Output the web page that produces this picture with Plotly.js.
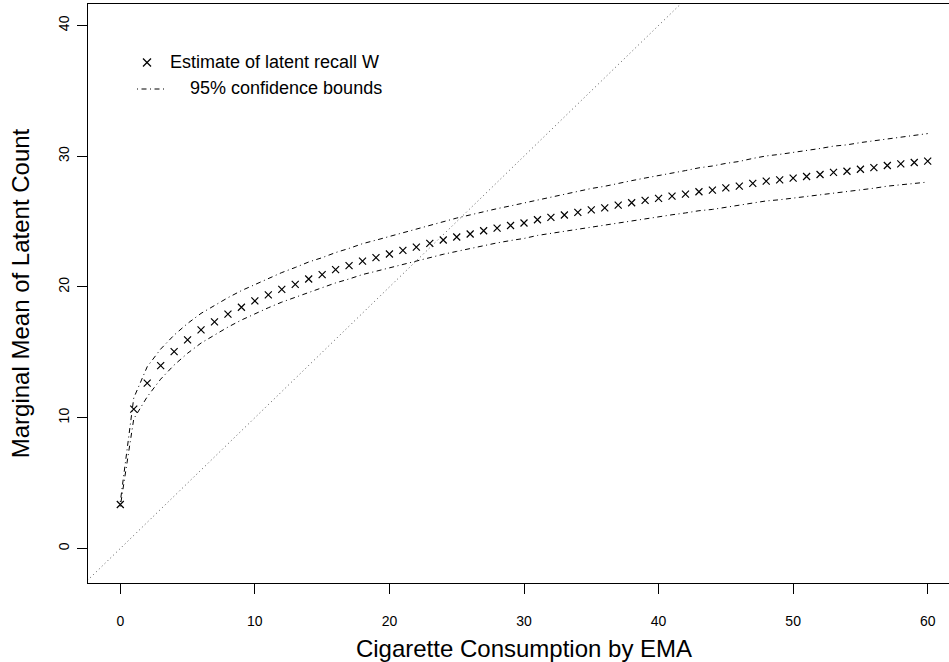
<!DOCTYPE html>
<html>
<head>
<meta charset="utf-8">
<script src="https://cdn.plot.ly/plotly-3.0.1.min.js"></script>
<style>
html,body{margin:0;padding:0;overflow:hidden;background:#fff;}
#chart{width:960px;height:662px;}
</style>
</head>
<body>
<div id="chart"></div>
<script>
// ---- data ----
var cigarettes = [0,1,2,3,4,5,6,7,8,9,10,11,12,13,14,15,16,17,18,19,20,21,22,23,24,25,26,27,28,29,30,31,32,33,34,35,36,37,38,39,40,41,42,43,44,45,46,47,48,49,50,51,52,53,54,55,56,57,58,59,60];
var estimate = [3.36,10.66,12.65,13.99,15.06,15.95,16.72,17.33,17.92,18.45,18.93,19.39,19.82,20.20,20.61,20.94,21.32,21.63,21.98,22.24,22.52,22.80,23.05,23.33,23.59,23.82,24.05,24.30,24.50,24.70,24.89,25.14,25.32,25.50,25.70,25.90,26.05,26.26,26.44,26.62,26.77,26.95,27.10,27.28,27.40,27.58,27.71,27.92,28.09,28.19,28.32,28.45,28.60,28.76,28.85,29.00,29.13,29.29,29.41,29.52,29.62];
var upperBound = [3.56,11.51,13.90,15.25,16.32,17.21,17.98,18.59,19.18,19.72,20.20,20.66,21.10,21.49,21.91,22.24,22.63,22.95,23.31,23.58,23.87,24.17,24.44,24.74,25.02,25.27,25.51,25.77,25.99,26.20,26.42,26.69,26.89,27.09,27.31,27.53,27.70,27.93,28.13,28.33,28.51,28.72,28.90,29.11,29.25,29.45,29.60,29.83,30.02,30.14,30.28,30.43,30.59,30.77,30.87,31.04,31.18,31.35,31.49,31.61,31.73];
var lowerBound = [3.21,9.91,11.60,12.95,14.03,14.93,15.71,16.33,16.93,17.47,17.95,18.41,18.84,19.21,19.62,19.94,20.31,20.61,20.95,21.20,21.47,21.74,21.98,22.25,22.50,22.72,22.94,23.18,23.37,23.55,23.71,23.94,24.10,24.26,24.43,24.61,24.73,24.92,25.07,25.23,25.36,25.52,25.66,25.83,25.93,26.10,26.22,26.42,26.58,26.67,26.79,26.91,27.05,27.20,27.29,27.43,27.55,27.71,27.82,27.93,28.02];
var identityLine = [-5, 50];
var xTicks = [0,10,20,30,40,50,60];
var yTicks = [0,10,20,30,40];
var legendLabels = ["Estimate of latent recall W", "95% confidence bounds"];

// ---- layout helpers (pixel -> paper) ----
var W = 960, H = 662, mL = 88, mR = 0, mT = 4, mB = 79;
var pw = W - mL - mR, ph = H - mT - mB;
function px(x){ return (x - mL) / pw; }
function py(y){ return (H - mB - y) / ph; }

var dashDot = "1px,3.5px,5px,3.5px";
var FONT = "Liberation Sans, Arial, Helvetica, sans-serif";

var traces = [
  {x: identityLine, y: identityLine, mode: "lines", type: "scatter",
   line: {color: "#555", width: 1, dash: "1px,3px"}, hoverinfo: "skip", showlegend: false},
  {x: cigarettes, y: upperBound, mode: "lines", type: "scatter", name: legendLabels[1],
   line: {color: "#000", width: 1, dash: dashDot}, showlegend: false},
  {x: cigarettes, y: lowerBound, mode: "lines", type: "scatter", name: legendLabels[1],
   line: {color: "#000", width: 1, dash: dashDot}, showlegend: false},
  {x: cigarettes, y: estimate, mode: "markers", type: "scatter", name: legendLabels[0],
   marker: {symbol: "x-thin", size: 7, color: "#000", line: {color: "#000", width: 1.2}}, showlegend: false}
];

var mx = 147, my = 62.5, ms = 4;
var layout = {
  width: W, height: H,
  margin: {l: mL, r: mR, t: mT, b: mB, pad: 0},
  paper_bgcolor: "#fff", plot_bgcolor: "#fff",
  font: {family: FONT, color: "#000", size: 14},
  showlegend: false,
  xaxis: {
    range: [-2.4, 62.4], tickvals: xTicks, ticktext: xTicks.map(String),
    ticks: "outside", ticklen: 10, tickwidth: 1, tickcolor: "#000",
    showline: true, linecolor: "#000", linewidth: 1, mirror: true,
    showgrid: false, zeroline: false, ticklabelstandoff: 15,
    tickfont: {size: 14, family: FONT},
    title: {text: "Cigarette Consumption by EMA", font: {size: 24, family: FONT}, standoff: 17}
  },
  yaxis: {
    range: [-2.64, 41.64], tickvals: yTicks, ticktext: yTicks.map(String),
    ticks: "outside", ticklen: 10, tickwidth: 1, tickcolor: "#000", tickangle: -90,
    showline: true, linecolor: "#000", linewidth: 1, mirror: true,
    showgrid: false, zeroline: false, ticklabelstandoff: 2,
    tickfont: {size: 14, family: FONT},
    title: {text: "Marginal Mean of Latent Count", font: {size: 24, family: FONT}, standoff: 20}
  },
  shapes: [
    {type: "line", xref: "paper", yref: "paper", x0: px(mx - ms), x1: px(mx + ms), y0: py(my - ms), y1: py(my + ms), line: {color: "#000", width: 1.2}},
    {type: "line", xref: "paper", yref: "paper", x0: px(mx - ms), x1: px(mx + ms), y0: py(my + ms), y1: py(my - ms), line: {color: "#000", width: 1.2}},
    {type: "line", xref: "paper", yref: "paper", x0: px(137), x1: px(167), y0: py(89), y1: py(89), line: {color: "#000", width: 1, dash: dashDot}}
  ],
  annotations: [
    {text: legendLabels[0], xref: "paper", yref: "paper", x: px(168), y: py(62), xanchor: "left", yanchor: "middle", showarrow: false, font: {size: 18, family: FONT}},
    {text: legendLabels[1], xref: "paper", yref: "paper", x: px(188), y: py(88), xanchor: "left", yanchor: "middle", showarrow: false, font: {size: 18, family: FONT}}
  ]
};

Plotly.newPlot("chart", traces, layout, {displayModeBar: false, staticPlot: true});
</script>
</body>
</html>
